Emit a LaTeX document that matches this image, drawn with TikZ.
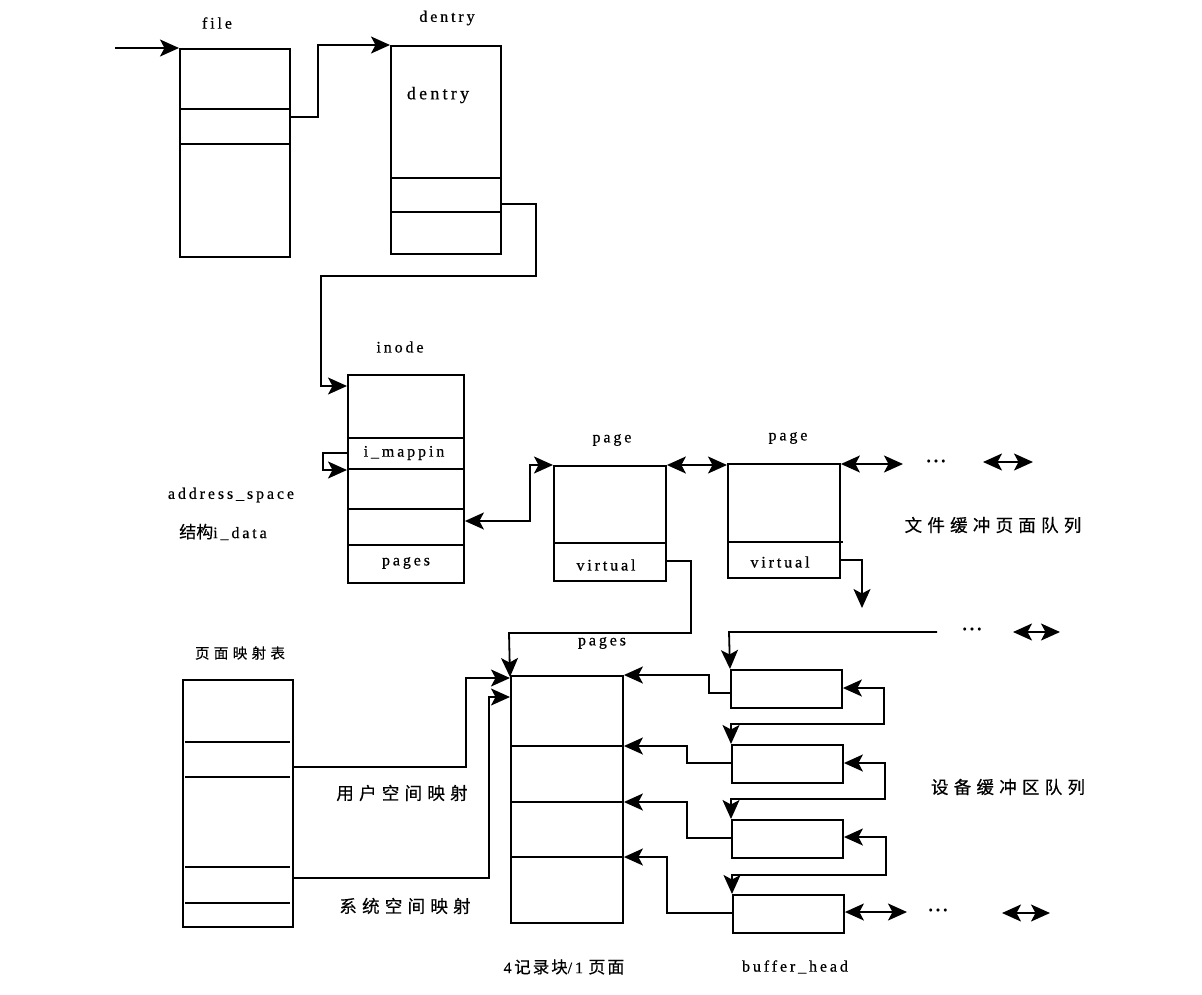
\documentclass[tikz,border=0pt]{standalone}
\usepackage{fontspec}
\setmainfont{Liberation Serif}
\newfontfamily\en[LetterSpace=18,FakeBold=0.6]{Liberation Serif}
\newfontfamily\cjk[LetterSpace=30,FakeBold=0.4]{Noto Sans CJK SC}
\newfontfamily\cjkn[FakeBold=0.4]{Noto Sans CJK SC}
\newfontfamily\cjkw[LetterSpace=12,FakeBold=0.4]{Noto Sans CJK SC}
\usetikzlibrary{arrows.meta}
\begin{document}
\begin{tikzpicture}[x=1pt,y=-1pt,
  box/.style={draw,line width=1.9pt,inner sep=0pt,anchor=north west},
  link/.style={line width=1.8pt},
  tip/.tip={Stealth[length=19pt,width=17pt,inset=4.5pt]},
  arr/.style={link,-tip},
  darr/.style={link,tip-tip},
  lbl/.style={inner sep=0pt,font=\en\fontsize{16}{18}\selectfont},
  zh/.style={inner sep=0pt,font=\cjk\fontsize{17.5}{20}\selectfont},
  dots/.style={inner sep=0pt,font=\en\bfseries\fontsize{17}{18}\selectfont}]
\useasboundingbox (0,0) rectangle (1202,994);
% boxes
\node[box,minimum width=110pt,minimum height=208pt] (file) at (179,48) {};
\node[box,minimum width=110pt,minimum height=208pt] (dentry) at (390,45) {};
\node[box,minimum width=116pt,minimum height=208pt] (inode) at (347,374) {};
\node[box,minimum width=112pt,minimum height=115pt] (page1) at (553,465) {};
\node[box,minimum width=112pt,minimum height=114pt] (page2) at (727,463) {};
\node[box,minimum width=112pt,minimum height=247pt] (pages) at (510,675) {};
\node[box,minimum width=110pt,minimum height=247pt] (map) at (182,679) {};
\node[box,minimum width=111pt,minimum height=38pt] (bh1) at (730,669) {};
\node[box,minimum width=111pt,minimum height=38pt] (bh2) at (731,744) {};
\node[box,minimum width=111pt,minimum height=38pt] (bh3) at (731,819) {};
\node[box,minimum width=111pt,minimum height=38pt] (bh4) at (732,894) {};
% dividers
\begin{scope}[line width=1.9pt]
\draw (file.west |- 0,109) -- (file.east |- 0,109);
\draw (file.west |- 0,144) -- (file.east |- 0,144);
\draw (dentry.west |- 0,178) -- (dentry.east |- 0,178);
\draw (dentry.west |- 0,212) -- (dentry.east |- 0,212);
\draw (inode.west |- 0,438) -- (inode.east |- 0,438);
\draw (inode.west |- 0,469) -- (inode.east |- 0,469);
\draw (inode.west |- 0,509) -- (inode.east |- 0,509);
\draw (inode.west |- 0,545) -- (inode.east |- 0,545);
\draw (page1.west |- 0,543) -- (page1.east |- 0,543);
\draw (page2.west |- 0,542) -- ([xshift=2pt]page2.east |- 0,542);
\draw (pages.west |- 0,746) -- (pages.east |- 0,746);
\draw (pages.west |- 0,802) -- (pages.east |- 0,802);
\draw (pages.west |- 0,857) -- (pages.east |- 0,857);
\draw ([xshift=3pt]map.west |- 0,742) -- ([xshift=-4pt]map.east |- 0,742);
\draw ([xshift=3pt]map.west |- 0,777) -- ([xshift=-4pt]map.east |- 0,777);
\draw ([xshift=3pt]map.west |- 0,867) -- ([xshift=-4pt]map.east |- 0,867);
\draw ([xshift=3pt]map.west |- 0,903) -- ([xshift=-4pt]map.east |- 0,903);
\end{scope}
% labels
\node[lbl] (tfile) at (217,23) {file};
\node[lbl] (tdentry) at (447,18) {dentry};
\node[lbl,font=\en\fontsize{18}{20}\selectfont] (tdentry2) at (438,95) {dentry};
\node[lbl] (tinode) at (400,347) {inode};
\node[lbl] (timap) at (404,453) {i\_mappin};
\node[lbl] (tipages) at (406,563) {pages};
\node[lbl] (taddr) at (231,495) {address\_space};
\node[inner sep=0pt] (tidata) at (223,532) {{\cjkn\fontsize{17}{20}\selectfont 结构}{\en\fontsize{16}{18}\selectfont i\_data}};
\node[lbl] (tpage1) at (612,440) {page};
\node[lbl] (tpage2) at (788,438) {page};
\node[lbl] (tv1) at (606,565) {virtual};
\node[lbl] (tv2) at (780,562) {virtual};
\node[zh] (tfq) at (993,525) {文件缓冲页面队列};
\node[lbl] (tpages) at (602,643) {pages};
\node[zh,font=\cjk\fontsize{14.5}{17}\selectfont] (tmap) at (240,653) {页面映射表};
\node[zh] (tuser) at (402,793) {用户空间映射};
\node[zh] (tsys) at (405,906) {系统空间映射};
\node[inner sep=0pt] (tblk) at (564,967) {{\en\fontsize{16}{18}\selectfont 4\,}{\cjkw\fontsize{16.5}{18}\selectfont 记录块}{\en\fontsize{16}{18}\selectfont /1\,\,}{\cjkw\fontsize{17}{18}\selectfont 页面}};
\node[lbl] (tbh) at (795,967) {buffer\_head};
\node[zh] (tdq) at (1008,787) {设备缓冲区队列};
\node[dots] (d1) at (936,461) {...};
\node[dots] (d2) at (972,629) {...};
\node[dots] (d3) at (938,910) {...};
% connectors
\coordinate (in) at (115,48);
\draw[arr] (in) -- (file.north west);
\draw[arr] (file.east |- 0,117) -- (318,117) -- (318,45) -- (dentry.north west);
\draw[arr] (dentry.east |- 0,204) -- (536,204) -- (536,276) -- (321,276) -- (321,386) -- (inode.west |- 0,386);
\draw[arr] (inode.west |- 0,453) -- (323,453) -- (323,470) -- (inode.west |- 0,470);
\draw[darr] (inode.east |- 0,521) -- (530,521) -- (530,465) -- (page1.north west);
\draw[darr] (page1.north east) -- (page2.north west |- page1.north east);
\coordinate (pr1) at (903,464);
\draw[darr] (page2.north east |- pr1) -- (pr1);
\coordinate (a1) at (983,462); \coordinate (b1) at (1033,462);
\draw[darr] (a1) -- (b1);
\draw[arr] (page1.east |- 0,561) -- (691,561) -- (691,633) -- (509,633) -- ([yshift=-2pt]pages.north west);
\coordinate (down2) at (862,608);
\draw[arr] (page2.east |- 0,560) -- (862,560) -- (down2);
\coordinate (bq) at (937,632);
\draw[arr] (bq) -- (729,632) -- (bh1.north west);
\coordinate (a2) at (1013,632); \coordinate (b2) at (1060,632);
\draw[darr] (a2) -- (b2);
\draw[arr] (bh1.west |- 0,693) -- (709,693) -- (709,675) -- (pages.north east);
\draw[arr] (bh2.west |- 0,763) -- (687,763) -- (687,746) -- (pages.east |- 0,746);
\draw[arr] (bh3.west |- 0,838) -- (687,838) -- (687,802) -- (pages.east |- 0,802);
\draw[arr] (bh4.west |- 0,913) -- (667,913) -- (667,857) -- (pages.east |- 0,857);
\draw[darr] (bh1.east |- 0,688) -- (884,688) -- (884,724) -- (731,724) -- (bh2.north west);
\draw[darr] (bh2.east |- 0,763) -- (885,763) -- (885,799) -- (731,799) -- (bh3.north west);
\draw[darr] (bh3.east |- 0,837) -- (886,837) -- (886,875) -- (732,875) -- (bh4.north west);
\coordinate (pr2) at (907,912);
\draw[darr] (bh4.east |- pr2) -- (pr2);
\coordinate (a3) at (1002,913); \coordinate (b3) at (1050,913);
\draw[darr] (a3) -- (b3);
\draw[arr] (map.east |- 0,767) -- (466,767) -- (466,678) -- (pages.west |- 0,678);
\draw[arr] (map.east |- 0,878) -- (489,878) -- (489,697) -- (pages.west |- 0,697);
\end{tikzpicture}
\end{document}
